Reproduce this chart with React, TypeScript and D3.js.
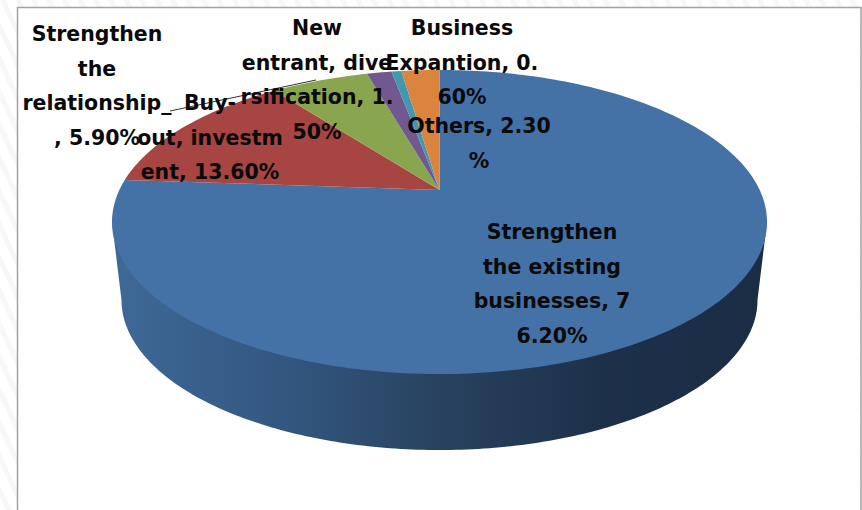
import React from "react";
import * as d3 from "d3";

const W = 862;
const H = 510;

const categories = [
  "Strengthen the existing businesses",
  "Buy-out, investment",
  "Strengthen the relationship_",
  "New entrant, diversification",
  "Business Expantion",
  "Others",
];
const shares = [76.2, 13.6, 5.9, 1.5, 0.6, 2.3];
const sliceColors = ["#4471a6", "#a64541", "#89a54e", "#71588f", "#4198af", "#db843d"];

const labelLines = [
  ["Strengthen", "the existing", "businesses, 7", "6.20%"],
  ["Buy-", "out, investm", "ent, 13.60%"],
  ["Strengthen", "the", "relationship_", ", 5.90%"],
  ["New", "entrant, dive", "rsification, 1.", "50%"],
  ["Business", "Expantion, 0.", "60%"],
  ["Others, 2.30", "%"],
];
const labelCenterX = [552, 210, 97, 317, 462, 479];
const labelFirstY = [232, 103, 34, 28, 28, 126];
const LINE_GAP = 34.6;

// Disc geometry: a perspective projection of the unit circle, pivot at the hub.
const HUB_X = 439.5;
const HUB_Y = 190;
const P = 0.2105;
const KY = 145.3;
const KX = 327.5 * Math.sqrt(1 - P * P);

const project = (angle: number): [number, number] => {
  const u = Math.sin(angle);
  const v = Math.cos(angle);
  const d = 1 + P * v;
  return [HUB_X + (KX * u) / d, HUB_Y - (KY * v) / d];
};

// Lower rim of the wall
const BASE = { cx: 439.5, cy: 300, rx: 318, ry: 150 };

const slices = d3.pie<number>().sort(null).startAngle(0).endAngle(2 * Math.PI)(shares);
const line = d3.line();

const slicePath = (a0: number, a1: number) => {
  const steps = Math.max(2, Math.ceil((a1 - a0) / 0.02));
  const rim = d3.range(steps + 1).map((i) => project(a0 + ((a1 - a0) * i) / steps));
  return line([[HUB_X, HUB_Y], ...rim]) + "Z";
};

const wallPath = () => {
  const lower = d3.range(0, 181).map((d): [number, number] => {
    const t = (d * Math.PI) / 180;
    return [BASE.cx - BASE.rx * Math.cos(t), BASE.cy + BASE.ry * Math.sin(t)];
  });
  const topRight: [number, number] = [767, 222];
  const topLeft: [number, number] = [112, 222];
  return line([topLeft, ...lower, topRight]) + "Z";
};

export default function App() {
  return (
    <svg
      width={W}
      height={H}
      viewBox={`0 0 ${W} ${H}`}
      style={{ position: "fixed", left: 0, top: 0, display: "block" }}
    >
      <defs>
        <pattern id="stripes" width="14" height="14" patternUnits="userSpaceOnUse" patternTransform="rotate(-25)">
          <rect width="14" height="14" fill="#ffffff" />
          <rect width="5" height="14" fill="#f7f7f7" />
        </pattern>
        <linearGradient id="wall" gradientUnits="userSpaceOnUse" x1="112" x2="767" y1="0" y2="0">
          <stop offset="0" stopColor="#3f6998" />
          <stop offset="0.3" stopColor="#31547b" />
          <stop offset="0.5" stopColor="#28425f" />
          <stop offset="0.75" stopColor="#1d3049" />
          <stop offset="1" stopColor="#1b2d45" />
        </linearGradient>
      </defs>
      <rect width={W} height={H} fill="url(#stripes)" />
      <rect x={17.5} y={7.5} width={843.5} height={H} fill="#ffffff" stroke="#a3a3a3" strokeWidth={1.5} />

      <path d={wallPath()} fill="url(#wall)" />
      {slices.map((s, i) => (
        <path key={categories[i]} d={slicePath(s.startAngle, s.endAngle)} fill={sliceColors[i]} />
      ))}

      <line x1={170} y1={111} x2={316} y2={80} stroke="#333333" strokeWidth={1} />

      <g
        fontFamily="'DejaVu Sans', sans-serif"
        fontWeight={700}
        fontSize={20.5}
        fill="#0a0a0a"
        textAnchor="middle"
      >
        {labelLines.map((lines, i) =>
          lines.map((t, j) => (
            <text
              key={`${i}-${j}`}
              x={labelCenterX[i]}
              y={labelFirstY[i] + j * LINE_GAP}
              dominantBaseline="central"
            >
              {t}
            </text>
          ))
        )}
      </g>
    </svg>
  );
}
